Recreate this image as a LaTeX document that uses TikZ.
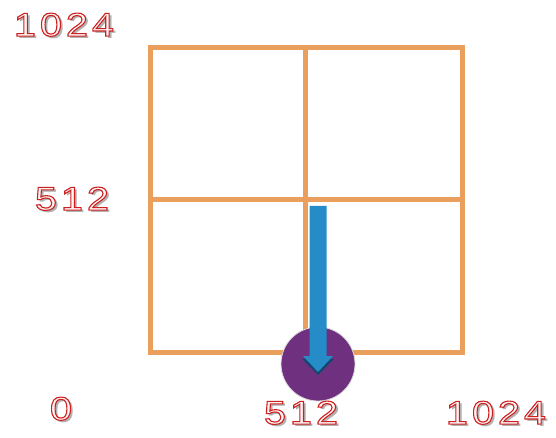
\documentclass[tikz,border=0pt]{standalone}
\usepackage{fontspec}
\setmainfont{Liberation Sans}
\newfontfamily\lblfont[FakeStretch=1.2]{Liberation Sans}
\definecolor{gridor}{RGB}{234,160,92}
\definecolor{arrblue}{RGB}{38,140,200}
\definecolor{arrdark}{RGB}{20,70,110}
\definecolor{circpur}{RGB}{112,48,128}
\definecolor{lblred}{RGB}{205,40,40}
\newcommand\tk{\kern4pt}
\newcommand\outl[1]{\special{pdf:literal direct 2 Tr 1.1 w 0.8 0.12 0.12 RG 1 0.96 0.96 rg}#1\special{pdf:literal direct 0 Tr}}
\newcommand\shd[1]{\rlap{\kern2.5pt\raisebox{-2.5pt}{\color{black!30}#1}}\outl{#1}}
\tikzset{
  gridline/.style={draw=gridor, line width=5pt},
  lbl/.style={font=\lblfont\fontsize{33}{33}\selectfont, text=lblred, inner sep=0pt, anchor=center},
}
\begin{document}
\begin{tikzpicture}[x=1pt,y=-1pt]
\useasboundingbox (0,0) rectangle (556,438);
\fill[white] (0,0) rectangle (556,438);
% grid
\coordinate (tl) at (150,48);
\coordinate (br) at (462,352);
\draw[gridline] (tl) rectangle (br);
\coordinate (mt) at (305,48);
\coordinate (mb) at (305,352);
\coordinate (ml) at (150,200);
\coordinate (mr) at (462,200);
\draw[gridline] (mt) -- (mb);
\draw[gridline] (ml) -- (mr);
% circle
\node[circle, fill=circpur, draw=black!15, line width=0.8pt, minimum size=74pt, inner sep=0pt] (dot) at (318,364) {};
% arrow
\fill[arrdark] (302,359) -- (318,375) -- (334,359) -- (330,359) -- (318,371) -- (306,359) -- cycle;
\fill[arrblue] (309.5,206) -- (326.5,206) -- (326.5,356) -- (333,356) -- (318,372) -- (303,356) -- (309.5,356) -- cycle;
% labels
\node[lbl] (ta) at (64,26) {\shd{1\tk0\tk2\tk4}};
\node[lbl] (la) at (72,200) {\shd{5\tk1\tk2}};
\node[lbl] (za) at (61,410) {\shd{0}};
\node[lbl] (ma) at (301,414) {\shd{5\tk1\tk2}};
\node[lbl] (ra) at (496,414) {\shd{1\tk0\tk2\tk4}};
\end{tikzpicture}
\end{document}
